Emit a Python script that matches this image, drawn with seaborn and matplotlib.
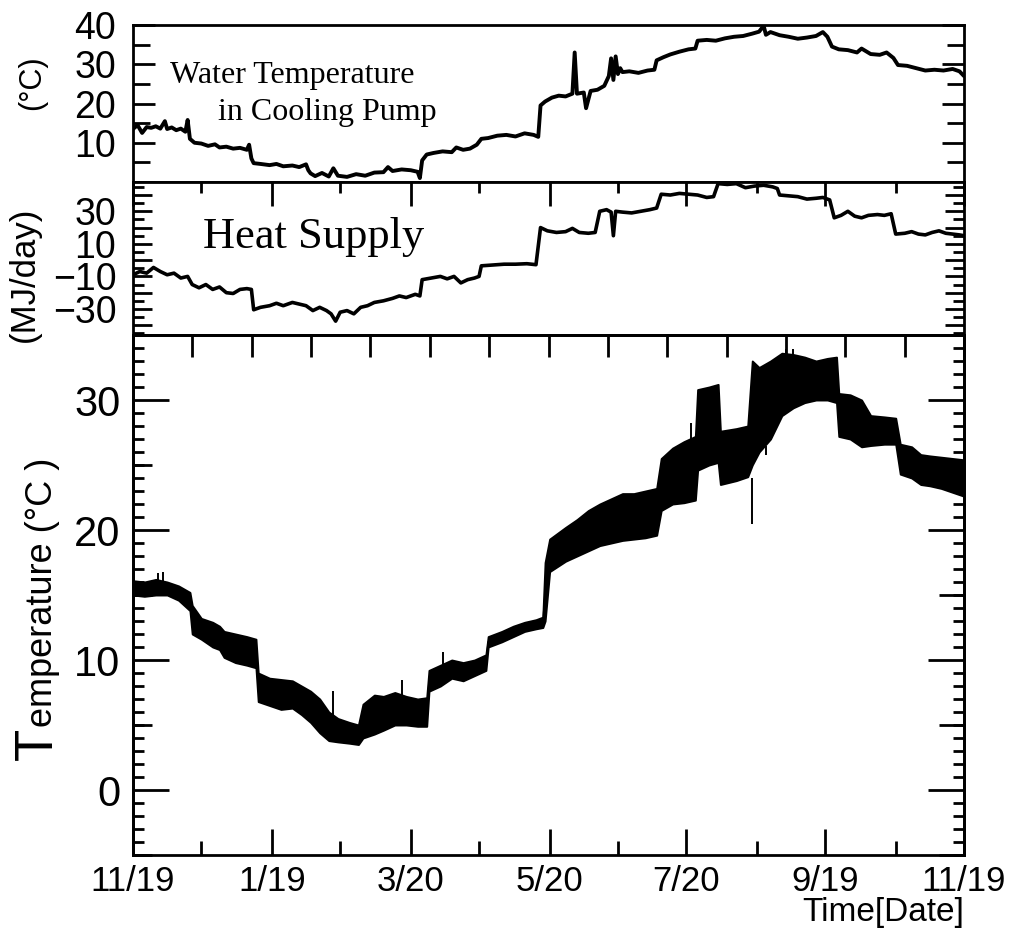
import numpy as np
import pandas as pd
import matplotlib
matplotlib.use("Agg")
import matplotlib.pyplot as plt
import seaborn as sns
from matplotlib.ticker import FixedLocator, MultipleLocator

# ---------------- data (days since 11/19) ----------------
# Water temperature in cooling pump (deg C)
wt_day = [0, 2, 4, 6, 8, 10, 12, 14, 15, 17, 19, 21, 23, 24, 25, 27, 30, 33, 36, 38,
          41, 44, 47, 50, 51, 52, 53, 56, 60, 63, 66, 70, 73, 76, 77, 78, 80, 83, 86, 88,
          90, 94, 98, 102, 106, 110, 112, 114, 118, 122, 125, 126, 127, 129, 132, 136, 140, 142, 145, 148,
          151, 153, 156, 160, 164, 168, 172, 176, 178, 179, 181, 184, 187, 190, 193, 194, 195, 198, 199, 201,
          204, 207, 209, 210, 211, 212, 213, 214, 215, 218, 222, 226, 229, 230, 233, 236, 240, 244, 247, 248,
          252, 256, 260, 264, 268, 272, 275, 277, 278, 280, 284, 288, 292, 296, 300, 303, 305, 307, 310, 314,
          318, 320, 324, 328, 331, 334, 336, 340, 344, 348, 352, 356, 360, 363, 365]
wt_val = [13.5, 14.5, 12.5, 14.0, 13.8, 14.2, 13.6, 15.5, 13.5, 13.9, 13.2, 13.6, 12.8, 15.8, 11.0, 10.0, 9.8, 9.2, 9.6, 8.8,
          9.0, 8.5, 8.7, 8.2, 9.5, 6.0, 4.8, 4.6, 4.3, 4.6, 4.0, 4.2, 3.8, 4.5, 3.0, 2.2, 1.5, 2.3, 1.4, 3.5,
          1.6, 1.3, 2.0, 1.6, 2.4, 2.5, 3.8, 2.8, 3.2, 3.0, 2.6, 1.0, 5.5, 7.0, 7.4, 7.8, 7.6, 8.8, 8.2, 8.5,
          9.5, 11.0, 11.2, 11.8, 12.0, 11.6, 12.4, 12.0, 11.5, 19.5, 20.5, 21.5, 22.0, 21.8, 22.5, 33.0, 22.5, 22.8, 18.8, 23.2,
          23.5, 24.5, 27.0, 31.5, 26.0, 32.0, 27.5, 29.0, 28.0, 28.2, 27.8, 28.4, 28.6, 31.0, 31.8, 32.5, 33.2, 33.8, 34.0, 36.0,
          36.2, 36.0, 36.6, 37.0, 37.2, 37.8, 38.3, 39.8, 37.5, 38.2, 37.4, 37.0, 36.5, 36.8, 37.2, 38.2, 37.0, 34.5, 33.8, 33.6,
          33.0, 34.0, 32.6, 32.4, 33.0, 31.6, 29.8, 29.6, 29.0, 28.4, 28.6, 28.4, 28.8, 28.2, 27.0]

# Heat supply (MJ/day)
hs_day = [0, 3, 6, 9, 12, 15, 18, 21, 24, 26, 29, 32, 35, 38, 41, 44, 47, 50, 52, 53,
          56, 60, 63, 66, 70, 73, 76, 79, 82, 85, 87, 89, 91, 94, 97, 100, 103, 106, 110, 114,
          117, 120, 124, 126, 127, 131, 135, 138, 141, 144, 147, 150, 152, 153, 158, 163, 168, 173, 177, 179,
          182, 186, 190, 193, 196, 200, 203, 205, 208, 210, 211, 212, 215, 219, 223, 227, 230, 232, 236, 240,
          244, 248, 252, 255, 257, 261, 265, 269, 273, 277, 281, 283, 284, 288, 292, 296, 300, 303, 306, 308,
          311, 314, 317, 320, 323, 327, 330, 333, 335, 339, 342, 345, 348, 351, 354, 357, 360, 363, 365]
hs_val = [-9, -7, -8, -4.5, -7, -9, -8, -11, -10, -15, -17, -15, -18, -16.5, -20, -20.5, -18, -17.5, -18, -30.5,
          -29, -28, -26.5, -28, -26, -27, -28, -31, -29, -31, -33, -37.5, -32, -31, -33, -29, -28, -26, -25, -23.5,
          -22, -23, -21, -22, -12, -11, -10, -11.5, -10, -14, -12, -11, -10, -3.5, -3, -2.5, -2.5, -2.2, -2.8, 20,
          18, 17, 17.5, 19.5, 17, 16.5, 17, 30, 31, 29.5, 15, 30, 29.5, 29, 30, 31, 32, 40.5, 40, 41,
          40.5, 40, 38.5, 39, 47, 46.5, 47, 44.5, 45.5, 46, 45, 44, 40, 39.5, 39, 37.5, 38, 38.5, 37, 26,
          27.5, 30, 27, 26, 27.5, 28, 27.5, 28.5, 16, 16.5, 17.5, 16, 15.5, 17, 18, 16.5, 16, 15.5, 15]

# Room temperature band: daily high / low (deg C)
rt_day = [0, 5, 10, 15, 20, 25, 26, 30, 35, 38, 40, 45, 50, 54, 55, 60, 65, 70, 74, 78,
          82, 86, 90, 95, 99, 101, 106, 110, 115, 120, 125, 129, 130, 135, 140, 145, 150, 155, 156, 162,
          167, 172, 177, 180, 181, 183, 190, 195, 200, 205, 210, 215, 220, 225, 230, 232, 237, 242, 247, 248,
          253, 257, 258, 265, 270, 272, 275, 280, 285, 290, 295, 300, 305, 309, 310, 315, 320, 324, 330, 335,
          337, 342, 346, 350, 355, 360, 365]
rt_hi = [16.1, 16.0, 16.2, 16.0, 15.7, 15.2, 14.2, 13.2, 12.9, 12.6, 12.2, 12.0, 11.8, 11.6, 9.0, 8.6, 8.5, 8.4, 8.0, 7.6,
         7.0, 6.0, 5.5, 5.2, 5.0, 6.6, 7.3, 7.2, 7.5, 7.2, 7.0, 7.1, 9.2, 9.6, 10.0, 9.8, 10.0, 10.4, 11.8, 12.2,
         12.6, 12.9, 13.1, 13.3, 17.5, 19.3, 20.2, 20.8, 21.5, 22.0, 22.4, 22.8, 22.8, 23.0, 23.2, 25.5, 26.3, 26.8, 27.2, 30.8,
         31.0, 31.2, 27.6, 27.8, 28.0, 33.0, 32.5, 33.0, 33.6, 33.5, 33.3, 33.0, 33.2, 33.3, 30.5, 30.4, 30.0, 28.8, 28.7, 28.6,
         26.6, 26.4, 25.8, 25.7, 25.6, 25.5, 25.4]
rt_lo = [15.0, 14.9, 15.0, 15.0, 14.6, 13.8, 12.0, 11.6, 11.0, 10.8, 10.2, 9.8, 9.6, 9.4, 6.8, 6.5, 6.2, 6.3, 5.8, 5.2,
         4.4, 3.8, 3.7, 3.6, 3.5, 4.0, 4.3, 4.6, 5.0, 5.0, 4.9, 4.9, 7.6, 8.0, 8.6, 8.4, 8.8, 9.2, 11.0, 11.4,
         11.8, 12.2, 12.4, 12.5, 13.0, 16.8, 17.6, 18.0, 18.4, 18.8, 19.0, 19.2, 19.3, 19.4, 19.6, 21.5, 22.0, 22.1, 22.3, 24.6,
         25.0, 25.2, 23.5, 23.8, 24.1, 25.0, 26.0, 27.0, 28.8, 29.4, 29.8, 30.0, 30.0, 29.8, 27.2, 27.0, 26.4, 26.5, 26.6, 26.6,
         24.3, 24.0, 23.5, 23.4, 23.2, 22.9, 22.6]

# isolated spikes in the room temperature record: day, from, to
spike_day = [11, 13, 58, 88, 118, 136, 245, 272, 278, 287, 290]
spike_from = [16.0, 16.0, 8.5, 5.3, 7.2, 9.7, 26.9, 24.0, 26.5, 33.5, 33.5]
spike_to = [16.7, 16.8, 8.8, 7.6, 8.5, 10.6, 28.2, 20.5, 25.8, 33.9, 33.9]

xtick_pos = [0, 61, 122, 183, 243, 304, 365]
xtick_lab = ["11/19", "1/19", "3/20", "5/20", "7/20", "9/19", "11/19"]
xminor_pos = [30, 91, 152, 213, 274, 335]

# ---------------- style ----------------
sns.set_theme(style="ticks")
plt.rcParams["font.family"] = ["Liberation Sans", "DejaVu Sans"]
plt.rcParams["axes.linewidth"] = 2.0
plt.rcParams["axes.edgecolor"] = "black"
plt.rcParams["xtick.color"] = "black"
plt.rcParams["ytick.color"] = "black"
plt.rcParams["xtick.labelcolor"] = "black"
plt.rcParams["ytick.labelcolor"] = "black"
plt.rcParams["text.color"] = "black"
plt.rcParams["axes.labelcolor"] = "black"

fig = plt.figure(figsize=(10.19, 9.32), dpi=100)
L, W = 133 / 1019, (964 - 133) / 1019
ax1 = fig.add_axes([L, 1 - 182 / 932, W, 157 / 932])
ax2 = fig.add_axes([L, 1 - 335 / 932, W, 153 / 932])
ax3 = fig.add_axes([L, 1 - 855 / 932, W, 520 / 932])

for ax in (ax1, ax2, ax3):
    ax.set_xlim(0, 365)
    ax.set_facecolor("white")
    for s in ax.spines.values():
        s.set_visible(True)
        s.set_linewidth(2.0)
        s.set_color("black")

# ---- top panel: water temperature ----
sns.lineplot(x=wt_day, y=wt_val, ax=ax1, color="black", lw=2.8, estimator=None, sort=False)
ax1.set_ylim(0, 40)
ax1.yaxis.set_major_locator(FixedLocator([0, 10, 20, 30, 40]))
ax1.set_yticklabels(["", "10", "20", "30", "40"])
ax1.yaxis.set_minor_locator(FixedLocator([5, 15, 25, 35]))
ax1.tick_params(axis="y", which="both", direction="in", left=True, right=True,
                width=2.0, labelsize=27, pad=12)
ax1.tick_params(axis="y", which="major", length=16)
ax1.tick_params(axis="y", which="minor", length=12)
ax1.tick_params(axis="x", which="both", bottom=False, top=False, labelbottom=False)
ax1.set_xlabel("")
ax1.set_ylabel("")

# ---- middle panel: heat supply ----
sns.lineplot(x=hs_day, y=hs_val, ax=ax2, color="black", lw=2.6, estimator=None, sort=False)
ax2.set_ylim(-46, 48)
ax2.yaxis.set_major_locator(FixedLocator([-40, -30, -20, -10, 0, 10, 20, 30, 40]))
ax2.set_yticklabels(["", "\u221230", "", "\u221210", "", "10", "", "30", ""])
ax2.yaxis.set_minor_locator(MultipleLocator(5))
ax2.tick_params(axis="y", which="both", direction="in", left=True, right=True,
                width=2.0, labelsize=27, pad=12)
ax2.tick_params(axis="y", which="major", length=14)
ax2.tick_params(axis="y", which="minor", length=8)
ax2.xaxis.set_major_locator(FixedLocator(xtick_pos))
ax2.xaxis.set_minor_locator(FixedLocator(xminor_pos))
ax2.tick_params(axis="x", which="both", direction="in", top=True, bottom=False,
                labelbottom=False, width=2.0)
ax2.tick_params(axis="x", which="major", length=17)
ax2.tick_params(axis="x", which="minor", length=8)
ax2.set_xlabel("")
ax2.set_ylabel("")

# ---- bottom panel: temperature band ----
band = pd.DataFrame({
    "day": list(rt_day) + list(rt_day),
    "temp": list(rt_lo) + list(rt_hi),
})
sns.lineplot(data=band, x="day", y="temp", ax=ax3, color="black", lw=1.0,
             estimator="mean", errorbar=("pi", 100),
             err_kws={"alpha": 1.0, "facecolor": "black", "edgecolor": "black", "linewidth": 1.4})
ax3.vlines(spike_day, spike_from, spike_to, color="black", lw=1.4)
ax3.set_ylim(-5, 35)
ax3.yaxis.set_major_locator(FixedLocator([0, 10, 20, 30]))
ax3.yaxis.set_minor_locator(MultipleLocator(1))
ax3.tick_params(axis="y", which="both", direction="in", left=True, right=True,
                width=2.0, labelsize=30, pad=9)
ax3.tick_params(axis="y", which="major", length=26)
ax3.tick_params(axis="y", which="minor", length=8)
sec = ax3.secondary_yaxis("left")
sec.yaxis.set_major_locator(FixedLocator([-5, 5, 15, 25, 35]))
sec.tick_params(axis="y", direction="in", length=14, width=2.0, labelleft=False)
sec.spines["left"].set_linewidth(2.0)
secr = ax3.secondary_yaxis("right")
secr.yaxis.set_major_locator(FixedLocator([-5, 5, 15, 25, 35]))
secr.tick_params(axis="y", direction="in", length=18, width=2.0, labelright=False)
secr.spines["right"].set_linewidth(2.0)

ax3.xaxis.set_major_locator(FixedLocator(xtick_pos))
ax3.set_xticklabels(xtick_lab)
ax3.xaxis.set_minor_locator(FixedLocator(xminor_pos))
ax3.tick_params(axis="x", which="both", direction="in", bottom=True, top=False,
                width=2.0, labelsize=25, pad=7)
ax3.tick_params(axis="x", which="major", length=19)
ax3.tick_params(axis="x", which="minor", length=10)
sect = ax3.secondary_xaxis("top")
sect.xaxis.set_major_locator(FixedLocator(np.linspace(0, 365, 15)))
sect.tick_params(axis="x", direction="in", length=16, width=2.0, labeltop=False)
sect.spines["top"].set_linewidth(2.0)
ax3.set_xlabel("")
ax3.set_ylabel("")

# ---- texts ----
serif = ["Liberation Serif", "DejaVu Serif"]
fig.text(170 / 1019, 1 - 83 / 932, "Water Temperature", family=serif, fontsize=23,
         ha="left", va="baseline")
fig.text(218 / 1019, 1 - 120 / 932, "in Cooling Pump", family=serif, fontsize=23,
         ha="left", va="baseline")
fig.text(203 / 1019, 1 - 248 / 932, "Heat Supply", family=serif, fontsize=32,
         ha="left", va="baseline")

fig.text(32 / 1019, 1 - 83 / 932, "(°C)", fontsize=22, rotation=90, ha="center", va="center")
fig.text(24 / 1019, 1 - 274 / 932, "(MJ/day)", fontsize=25, rotation=90, ha="center", va="center")
fig.text(52 / 1019, 1 - 760 / 932, "T", fontsize=38, rotation=90,
         rotation_mode="anchor", ha="left", va="baseline")
fig.text(52 / 1019, 1 - 727 / 932, "emperature (°C )", fontsize=26, rotation=90,
         rotation_mode="anchor", ha="left", va="baseline")
fig.text(964 / 1019, 1 - 921 / 932, "Time[Date]", fontsize=24, ha="right", va="baseline")

fig.savefig("out.png", dpi=100, facecolor="white")
